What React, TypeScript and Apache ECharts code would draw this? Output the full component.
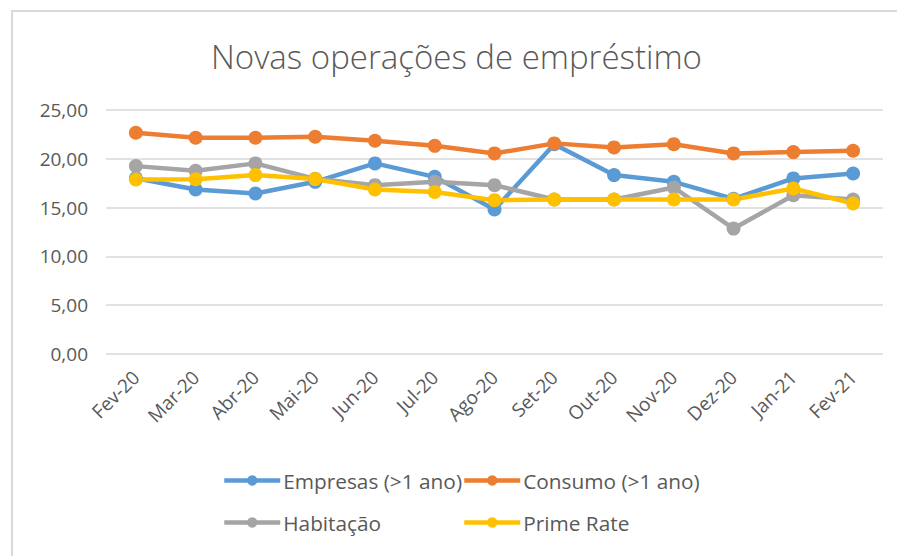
import React, { useEffect, useRef } from "react";
import * as echarts from "echarts";

const categories = ["Fev-20", "Mar-20", "Abr-20", "Mai-20", "Jun-20", "Jul-20", "Ago-20", "Set-20", "Out-20", "Nov-20", "Dez-20", "Jan-21", "Fev-21"];
const empresas = [18.0, 16.86, 16.45, 17.64, 19.53, 18.15, 14.8, 21.5, 18.33, 17.64, 15.9, 17.99, 18.5];
const consumo = [22.67, 22.16, 22.16, 22.26, 21.85, 21.33, 20.55, 21.58, 21.17, 21.5, 20.55, 20.69, 20.82];
const habitacao = [19.25, 18.77, 19.53, 17.95, 17.3, 17.64, 17.3, 15.83, 15.83, 17.06, 12.85, 16.27, 15.83];
const primeRate = [17.88, 17.9, 18.33, 17.92, 16.86, 16.6, 15.76, 15.83, 15.83, 15.83, 15.83, 16.96, 15.42];

const seriesNames = ["Empresas (>1 ano)", "Consumo (>1 ano)", "Habitação", "Prime Rate"];
const seriesColors = ["#5B9BD5", "#ED7D31", "#A5A5A5", "#FFC000"];
const seriesData = [empresas, consumo, habitacao, primeRate];

const FONT = "'Open Sans', 'Noto Sans', sans-serif";

export default function App() {
  const ref = useRef<HTMLDivElement>(null);
  useEffect(() => {
    if (!ref.current) return;
    const chart = echarts.init(ref.current, undefined, { renderer: "svg" });
    const legendPos = [
      { left: 209, top: 457 },
      { left: 449, top: 457 },
      { left: 209, top: 499 },
      { left: 449, top: 499 },
    ];
    chart.setOption({
      animation: false,
      backgroundColor: "#ffffff",
      title: {
        text: "Novas operações de empréstimo",
        left: "center",
        top: 27,
        textStyle: { fontFamily: FONT, fontSize: 33, fontWeight: 300, color: "#595959" },
      },
      graphic: [
        {
          type: "polyline",
          shape: { points: [[4, 600], [4, 3], [910, 3]] },
          style: { stroke: "#d9d9d9", lineWidth: 2, fill: "none" },
          silent: true,
        },
      ],
      legend: seriesNames.map((n, i) => ({
        data: [n],
        left: legendPos[i].left,
        top: legendPos[i].top,
        itemWidth: 56,
        itemHeight: 13,
        itemGap: 6,
        lineStyle: { width: 4.5 },
        textStyle: { fontFamily: FONT, fontSize: 20.8, color: "#595959", padding: [0, 0, 0, -2] },
      })),
      grid: { left: 98, right: 22, top: 102, bottom: 202, containLabel: false },
      xAxis: {
        type: "category",
        data: categories,
        boundaryGap: true,
        axisLine: { show: false },
        axisTick: { show: false },
        axisLabel: {
          rotate: 45,
          margin: 20,
          fontFamily: FONT,
          fontSize: 19,
          color: "#595959",
          interval: 0,
        },
      },
      yAxis: {
        type: "value",
        min: 0,
        max: 25,
        interval: 5,
        axisLine: { show: false },
        axisTick: { show: false },
        splitLine: { lineStyle: { color: "#d9d9d9", width: 1.5 } },
        axisLabel: {
          margin: 18,
          fontFamily: FONT,
          fontSize: 19,
          color: "#595959",
          formatter: (v: number) => v.toFixed(2).replace(".", ","),
        },
      },
      series: seriesNames.map((n, i) => ({
        name: n,
        type: "line",
        data: seriesData[i],
        symbol: "circle",
        symbolSize: 14,
        lineStyle: { width: 4.5, color: seriesColors[i] },
        itemStyle: { color: seriesColors[i] },
        color: seriesColors[i],
      })),
    });
    return () => chart.dispose();
  }, []);
  return <div ref={ref} style={{ width: 897, height: 548 }} />;
}
